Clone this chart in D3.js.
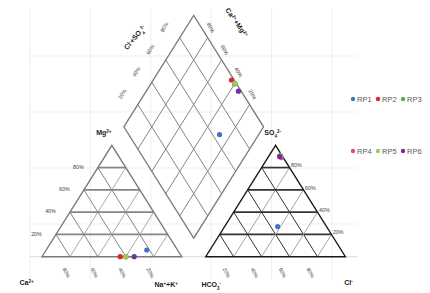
<!DOCTYPE html>
<html>
<head>
<meta charset="utf-8">
<script src="https://cdn.jsdelivr.net/npm/d3@7"></script>
<style>
  body { margin: 0; background: #fff; }
  svg { display: block; font-family: "Liberation Sans", Arial, sans-serif; }
</style>
</head>
<body>
<div id="chart"></div>
<script>
// samples and colours
const samples = ["RP1", "RP2", "RP3", "RP4", "RP5", "RP6"];
const colors = ["#4472C4", "#D9262B", "#5DAE3A", "#E2479A", "#92D050", "#7030A0"];

// cations (fraction of meq/L)
const ca  = [0.22, 0.44, 0.40, 0.40, 0.40, 0.34];
const mg  = [0.06, 0.00, 0.00, 0.00, 0.00, 0.00];
const nak = [0.72, 0.56, 0.60, 0.60, 0.60, 0.66];

// anions (fraction of meq/L)
const hco3 = [0.35, 0.02, 0.01, 0.015, 0.01, 0.02];
const so4  = [0.27, 0.90, 0.91, 0.89, 0.91, 0.90];
const cl   = [0.38, 0.08, 0.08, 0.095, 0.08, 0.08];

const gridSteps = [0.2, 0.4, 0.6, 0.8];
const gridLabels = ["20%", "40%", "60%", "80%"];

const width = 430, height = 293;
const gap = 0.172;            // space between the two triangles (triangle units)
const dBase = [1 + gap / 2, 0.166]; // bottom vertex of the diamond

const svg = d3.select("#chart").append("svg")
  .attr("width", width).attr("height", height);

// unit scales: 1 unit = triangle side (x), triangle height (y)
const x = d3.scaleLinear().domain([0, 1]).range([42, 181.7]);
const y = d3.scaleLinear().domain([0, 1]).range([256.7, 145.3]);
const px = (p) => [x(p[0]), y(p[1])];

// excel-like background gridlines
const gx = d3.scaleLinear().domain([0, 5]).range([30, 332]);
const gy = d3.scaleLinear().domain([0, 5]).range([280, 0]);
const bg = svg.append("g");
bg.selectAll("line.h").data([1, 2, 3, 4]).join("line").attr("class", "h")
  .attr("x1", 30).attr("x2", 357).attr("y1", (d) => gy(d)).attr("y2", (d) => gy(d))
  .attr("stroke", "#efefef").attr("stroke-width", 1);
bg.selectAll("line.v").data(d3.range(0, 6)).join("line").attr("class", "v")
  .attr("x1", (d) => gx(d)).attr("x2", (d) => gx(d)).attr("y1", 8).attr("y2", 280)
  .attr("stroke", "#efefef").attr("stroke-width", 1);
bg.append("line")
  .attr("x1", 30).attr("x2", 357).attr("y1", y(0)).attr("y2", y(0))
  .attr("stroke", "#d9d9d9").attr("stroke-width", 1);

// ternary -> unit coordinates
const cationPt = (c, m, n) => [n + m / 2, m];
const anionPt = (h, s, c) => [1 + gap + c + s / 2, s];
const diamondPt = (caMg, clSo4) => [dBase[0] + (clSo4 - caMg) / 2, dBase[1] + clSo4 + caMg];

function segment(g, a, b, stroke, w) {
  const p = px(a), q = px(b);
  g.append("line")
    .attr("x1", p[0]).attr("y1", p[1]).attr("x2", q[0]).attr("y2", q[1])
    .attr("stroke", stroke).attr("stroke-width", w);
}

function triangle(g, x0, style) {
  gridSteps.forEach((t) => {
    segment(g, [x0 + 1 - t, 0], [x0 + (1 - t) / 2, 1 - t], style.back, 1);
    segment(g, [x0 + t, 0], [x0 + t + (1 - t) / 2, 1 - t], style.fwd, 1);
    segment(g, [x0 + t / 2, t], [x0 + 1 - t / 2, t], style.hor, 1.7);
  });
  g.append("path")
    .attr("d", d3.line()([[x0, 0], [x0 + 1, 0], [x0 + 0.5, 1]].map(px)) + "Z")
    .attr("fill", "none").attr("stroke", style.edge).attr("stroke-width", 1.4)
    .attr("stroke-linejoin", "miter");
}

const gridG = svg.append("g");
triangle(gridG.append("g"), 0, { back: "#858585", fwd: "#aaaaaa", hor: "#858585", edge: "#7a7a7a" });
triangle(gridG.append("g"), 1 + gap, { back: "#333", fwd: "#a6a6a6", hor: "#333", edge: "#1a1a1a" });

// diamond
const dG = gridG.append("g");
gridSteps.forEach((t) => {
  segment(dG, diamondPt(t, 0), diamondPt(t, 1), "#858585", 1);
  segment(dG, diamondPt(0, t), diamondPt(1, t), "#858585", 1);
});
dG.append("path")
  .attr("d", d3.line()([diamondPt(0, 0), diamondPt(1, 0), diamondPt(1, 1), diamondPt(0, 1)].map(px)) + "Z")
  .attr("fill", "none").attr("stroke", "#7a7a7a").attr("stroke-width", 1.3);

// percent labels
const labG = svg.append("g").attr("font-size", "5.3px").attr("fill", "#404040");
function pctLabel(p, dx, dy, rot, anchor, txt) {
  const q = px(p);
  labG.append("text")
    .attr("transform", `translate(${q[0] + dx},${q[1] + dy}) rotate(${rot})`)
    .attr("text-anchor", anchor).attr("dy", "0.35em").text(txt);
}
gridSteps.forEach((t, i) => {
  pctLabel(cationPt(1 - t, t, 0), -19.5, -0.5, 0, "middle", gridLabels[i]);       // Mg
  pctLabel(cationPt(t, 0, 1 - t), -3.5, 16, 62, "middle", gridLabels[i]);         // Ca
  pctLabel(anionPt(0, t, 1 - t), 1.5, -2, 0, "start", gridLabels[i]);            // SO4
  pctLabel(anionPt(1 - t, 0, t), -7, 16, 62, "middle", gridLabels[i]);           // Cl
  pctLabel(diamondPt(1, t), -15.5, -10.5, -60, "middle", gridLabels[i]);          // Cl+SO4
  pctLabel(diamondPt(t, 1), 3, -10, 60, "middle", gridLabels[i]);                 // Ca+Mg
});

// ion labels
const ionG = svg.append("g").attr("font-size", "7px").attr("font-weight", "bold").attr("fill", "#1a1a1a");
function ionLabel(p, dx, dy, rot, parts) {
  const q = px(p);
  const t = ionG.append("text")
    .attr("transform", `translate(${q[0] + dx},${q[1] + dy}) rotate(${rot})`)
    .attr("text-anchor", "middle").attr("dy", "0.35em");
  parts.forEach(([s, kind]) => {
    const ts = t.append("tspan").text(s);
    if (kind) ts.attr("baseline-shift", kind).attr("font-size", "4.5px");
  });
}
ionLabel([0.5, 1], -8, -12.5, 0, [["Mg"], ["2+", "super"]]);
ionLabel([1 + gap + 0.5, 1], -3, -12.5, 0, [["SO"], ["4", "sub"], ["2-", "super"]]);
ionLabel([0, 0], -15.5, 26, 0, [["Ca"], ["2+", "super"]]);
ionLabel([1, 0], -15.5, 28, 0, [["Na"], ["+", "super"], ["+K"], ["+", "super"]]);
ionLabel([1 + gap, 0], 5.5, 28, 0, [["HCO"], ["3", "sub"], ["-", "super"]]);
ionLabel([2 + gap, 0], 3, 26, 0, [["Cl"], ["-", "super"]]);
ionLabel(diamondPt(1, 1), -59, 22, -50, [["Cl"], ["-", "super"], ["+SO"], ["4", "sub"], ["2-", "super"]]);
ionLabel(diamondPt(1, 1), 43, 7, 55, [["Ca"], ["2+", "super"], ["+Mg"], ["2+", "super"]]);

// sample points
const r = 2.6;
const ptG = svg.append("g");
samples.forEach((s, i) => {
  const pts = [
    cationPt(ca[i], mg[i], nak[i]),
    anionPt(hco3[i], so4[i], cl[i]),
    diamondPt(ca[i] + mg[i], so4[i] + cl[i])
  ];
  ptG.selectAll(`circle.s${i}`).data(pts).join("circle")
    .attr("class", `s${i}`)
    .attr("cx", (d) => x(d[0])).attr("cy", (d) => y(d[1]))
    .attr("r", r).attr("fill", colors[i]);
});

// legend, two rows of three
const legG = svg.append("g").attr("font-size", "7.5px").attr("fill", "#595959");
samples.forEach((s, i) => {
  const col = i % 3, row = Math.floor(i / 3);
  const g = legG.append("g").attr("transform", `translate(${353 + col * 25},${99 + row * 52})`);
  g.append("circle").attr("r", 2.2).attr("fill", colors[i]);
  g.append("text").attr("x", 4).attr("dy", "0.35em").text(s);
});
</script>
</body>
</html>
